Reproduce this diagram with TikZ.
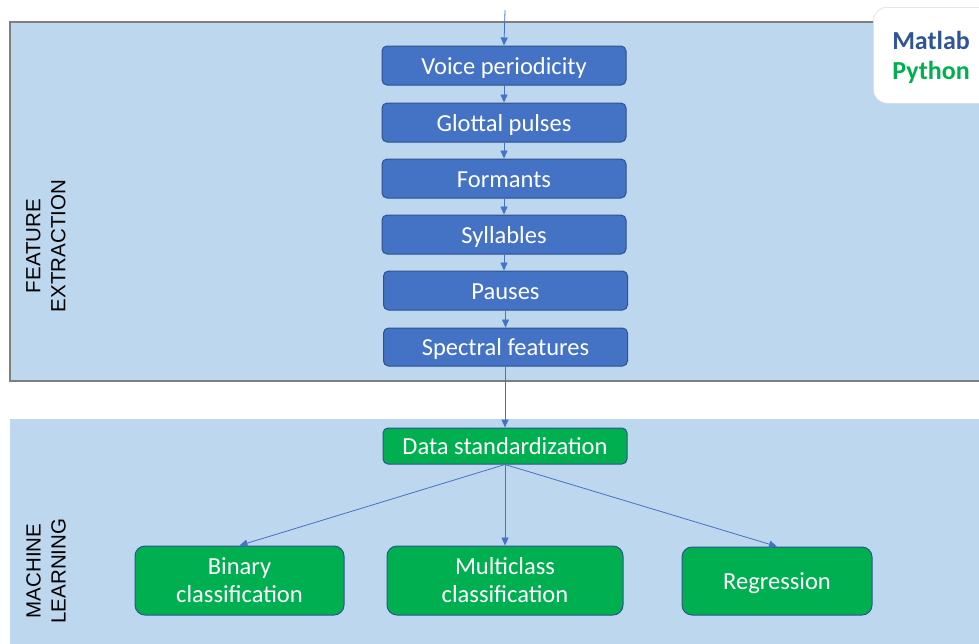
\documentclass[tikz,border=0pt]{standalone}
\usepackage{fontspec}
\setmainfont{Carlito}
\newfontfamily\arialfont{Liberation Sans}
\usetikzlibrary{arrows.meta,positioning}
\definecolor{panelfill}{HTML}{BDD7EE}
\definecolor{boxblue}{HTML}{4472C4}
\definecolor{boxedge}{HTML}{2F528F}
\definecolor{boxgreen}{HTML}{00B050}
\definecolor{matlabblue}{HTML}{2F5597}
\definecolor{panelline}{HTML}{7F7F7F}
\tikzset{
  featbox/.style={draw=boxedge, line width=1pt, fill=boxblue, rounded corners=5pt, text=white, font=\fontsize{24.5}{28}\selectfont, inner sep=0pt, text height=20pt, text depth=3pt},
  mlbox/.style={draw=boxedge, line width=1pt, fill=boxgreen, rounded corners=10pt, text=white, font=\fontsize{24.5}{28}\selectfont, align=center, inner sep=0pt, text height=46pt, text depth=3pt},
  conn/.style={draw=boxblue, line width=0.8pt, -{Triangle[length=8pt,width=7pt]}},
  sidelabel/.style={font=\arialfont\fontsize{20.5}{25}\selectfont, rotate=90, align=center, text=black}
}
\begin{document}
\begin{tikzpicture}[x=1pt,y=-1pt]
\useasboundingbox (0,0) rectangle (979,643);
% panels
\fill[panelfill] (10,22) rectangle (985,381);
\draw[panelline, line width=1.5pt] (985,22) -- (10,22) -- (10,381) -- (985,381);
\fill[panelfill] (10,419) rectangle (985,650);
% legend
\node[draw=white!85!black, fill=white, rounded corners=14pt, line width=0.5pt, minimum width=130pt, minimum height=96pt, anchor=north west] (legend) at (873,7) {};
\node[font=\bfseries\fontsize{26}{30}\selectfont, text=matlabblue] (matlab) at (931,40) {Matlab};
\node[font=\bfseries\fontsize{26}{30}\selectfont, text=boxgreen] (python) at (931,72) {Python};
% side labels
\node[sidelabel] (fe) at (46,246) {FEATURE\\EXTRACTION};
\node[sidelabel] (ml) at (46,571) {MACHINE\\LEARNING};
% feature boxes
\coordinate (top) at (505,10);
\node[featbox, minimum width=244pt, minimum height=39pt] (vp) at (504,65.5) {Voice periodicity};
\node[featbox, minimum width=244pt, minimum height=39pt] (gp) at (504,122.5) {Glottal pulses};
\node[featbox, minimum width=244pt, minimum height=39pt] (fo) at (504,178.5) {Formants};
\node[featbox, minimum width=244pt, minimum height=39pt] (sy) at (504,234.5) {Syllables};
\node[featbox, minimum width=244pt, minimum height=39pt] (pa) at (505.5,290.5) {Pauses};
\node[featbox, minimum width=244pt, minimum height=38pt] (sf) at (505.5,347) {Spectral features};
% ML boxes
\node[featbox, fill=boxgreen, minimum width=244pt, minimum height=36pt] (ds) at (505,446) {Data standardization};
\node[mlbox, minimum width=209pt, minimum height=69pt] (bc) at (239.5,580.5) {Binary\\classification};
\node[mlbox, minimum width=236pt, minimum height=69pt] (mc) at (505,580.5) {Multiclass\\classification};
\node[featbox, fill=boxgreen, rounded corners=10pt, minimum width=190pt, minimum height=68pt] (rg) at (777,581) {Regression};
% connectors
\draw[conn] (top) -- (vp.north);
\draw[conn] (vp) -- (gp);
\draw[conn] (gp) -- (fo);
\draw[conn] (fo) -- (sy);
\draw[conn] (sy.south) -- (sy.south |- pa.north);
\draw[conn] (pa) -- (sf);
\draw[conn] (sf.south -| ds.north) -- (ds.north);
\draw[conn] (ds.south) -- (bc.north);
\draw[conn] (ds.south) -- (mc.north);
\draw[conn] (ds.south) -- (rg.north);
\end{tikzpicture}
\end{document}
